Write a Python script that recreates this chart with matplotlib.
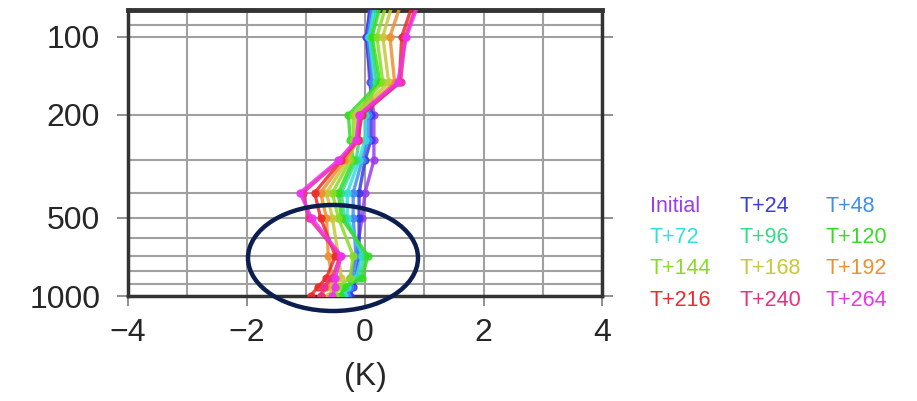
import matplotlib
matplotlib.use("Agg")
import matplotlib.pyplot as plt
from matplotlib.patches import Ellipse

plt.rcParams['font.family'] = ['Liberation Sans', 'DejaVu Sans']

# pressure levels (hPa) and temperature bias profiles (K) per forecast lead time
levels = [1000, 925, 850, 700, 500, 400, 300, 250, 200, 150, 100, 70]

labels = ["Initial", "T+24", "T+48",
          "T+72", "T+96", "T+120",
          "T+144", "T+168", "T+192",
          "T+216", "T+240", "T+264"]

colors = ["#9a3cf0", "#3a3ae8", "#3f8ff0",
          "#33dede", "#33dd88", "#33dd22",
          "#88dd22", "#c8c83a", "#ee9030",
          "#ee2a2a", "#ee2d84", "#ee33ee"]

bias_initial = [-0.30, -0.25, -0.25, -0.15, -0.05, 0.00, 0.15, 0.15, 0.15, 0.08, 0.03, 0.10]
bias_t24 = [-0.25, -0.20, -0.15, -0.10, -0.10, -0.10, 0.00, 0.10, 0.10, 0.10, 0.02, 0.12]
bias_t48 = [-0.30, -0.25, -0.20, -0.15, -0.20, -0.20, -0.05, 0.05, 0.05, 0.12, 0.05, 0.15]
bias_t72 = [-0.35, -0.30, -0.15, -0.05, -0.30, -0.30, -0.10, 0.00, 0.00, 0.18, 0.07, 0.20]
bias_t96 = [-0.40, -0.35, -0.10, 0.00, -0.35, -0.40, -0.15, -0.10, -0.10, 0.20, 0.10, 0.25]
bias_t120 = [-0.42, -0.35, -0.05, 0.05, -0.40, -0.45, -0.20, -0.25, -0.28, 0.25, 0.12, 0.30]
bias_t144 = [-0.50, -0.45, -0.25, -0.20, -0.45, -0.55, -0.25, -0.20, -0.20, 0.30, 0.20, 0.40]
bias_t168 = [-0.60, -0.55, -0.40, -0.45, -0.55, -0.65, -0.30, -0.15, -0.15, 0.40, 0.30, 0.50]
bias_t192 = [-0.75, -0.65, -0.55, -0.62, -0.65, -0.75, -0.35, -0.10, -0.10, 0.50, 0.42, 0.65]
bias_t216 = [-0.92, -0.80, -0.65, -0.50, -0.75, -0.85, -0.40, -0.12, -0.05, 0.58, 0.62, 0.85]
bias_t240 = [-0.75, -0.70, -0.55, -0.42, -0.95, -1.05, -0.42, -0.12, -0.08, 0.60, 0.68, 0.92]
bias_t264 = [-0.55, -0.50, -0.50, -0.40, -0.90, -1.10, -0.45, -0.15, -0.10, 0.55, 0.70, 0.95]

profiles = [bias_initial, bias_t24, bias_t48, bias_t72, bias_t96, bias_t120,
            bias_t144, bias_t168, bias_t192, bias_t216, bias_t240, bias_t264]

fig = plt.figure(figsize=(9.17, 4.01), dpi=100)
ax = fig.add_axes([0.1396, 0.2618, 0.5169, 0.7132])

for vals, c in zip(profiles, colors):
    ax.plot(vals, levels, color=c, lw=2.4, marker="o", ms=5, alpha=0.85, zorder=3)

ax.set_yscale("log")
ax.set_ylim(1000, 79)
ax.set_xlim(-4, 4)

ax.set_yticks([100, 200, 500, 1000])
ax.set_yticklabels(["100", "200", "500", "1000"])
ax.set_yticks([80, 90, 300, 400, 600, 700, 800, 900], minor=True)
ax.set_xticks([-4, -2, 0, 2, 4])
ax.set_xticklabels(["\u22124", "\u22122", "0", "2", "4"])
ax.set_xticks([-3, -1, 1, 3], minor=True)

ax.grid(which="both", color="#a0a0a0", lw=1.5, zorder=0)
ax.tick_params(which="major", axis="y", left=True, right=True, length=8, width=1.3,
               color="#888888", labelsize=23, pad=12, labelcolor="#262626")
ax.tick_params(which="major", axis="x", bottom=True, length=7, width=1.3,
               color="#888888", labelsize=23, pad=9, labelcolor="#262626")
ax.tick_params(which="minor", length=0)

for side, sp in ax.spines.items():
    sp.set_color("#333333")
    sp.set_linewidth(2.5)
ax.spines["top"].set_linewidth(3.5)

ax.set_xlabel("(K)", fontsize=23, color="#262626", labelpad=10)

# lead-time key as coloured text, three per row
col_x = [650, 740, 826]
row_y = [206, 237, 268, 300]
for i, (lab, c) in enumerate(zip(labels, colors)):
    r, k = divmod(i, 3)
    fig.text(col_x[k] / 917, 1 - row_y[r] / 401, lab, color=c, fontsize=15.5,
             ha="left", va="center")

# highlight of the lower troposphere
ring = Ellipse((333 / 917, 1 - 258 / 401), 170 / 917, 106 / 401,
               transform=fig.transFigure, fill=False, edgecolor="#0b1e4f", lw=3.2)
fig.add_artist(ring)

fig.savefig("out.png", dpi=100)
